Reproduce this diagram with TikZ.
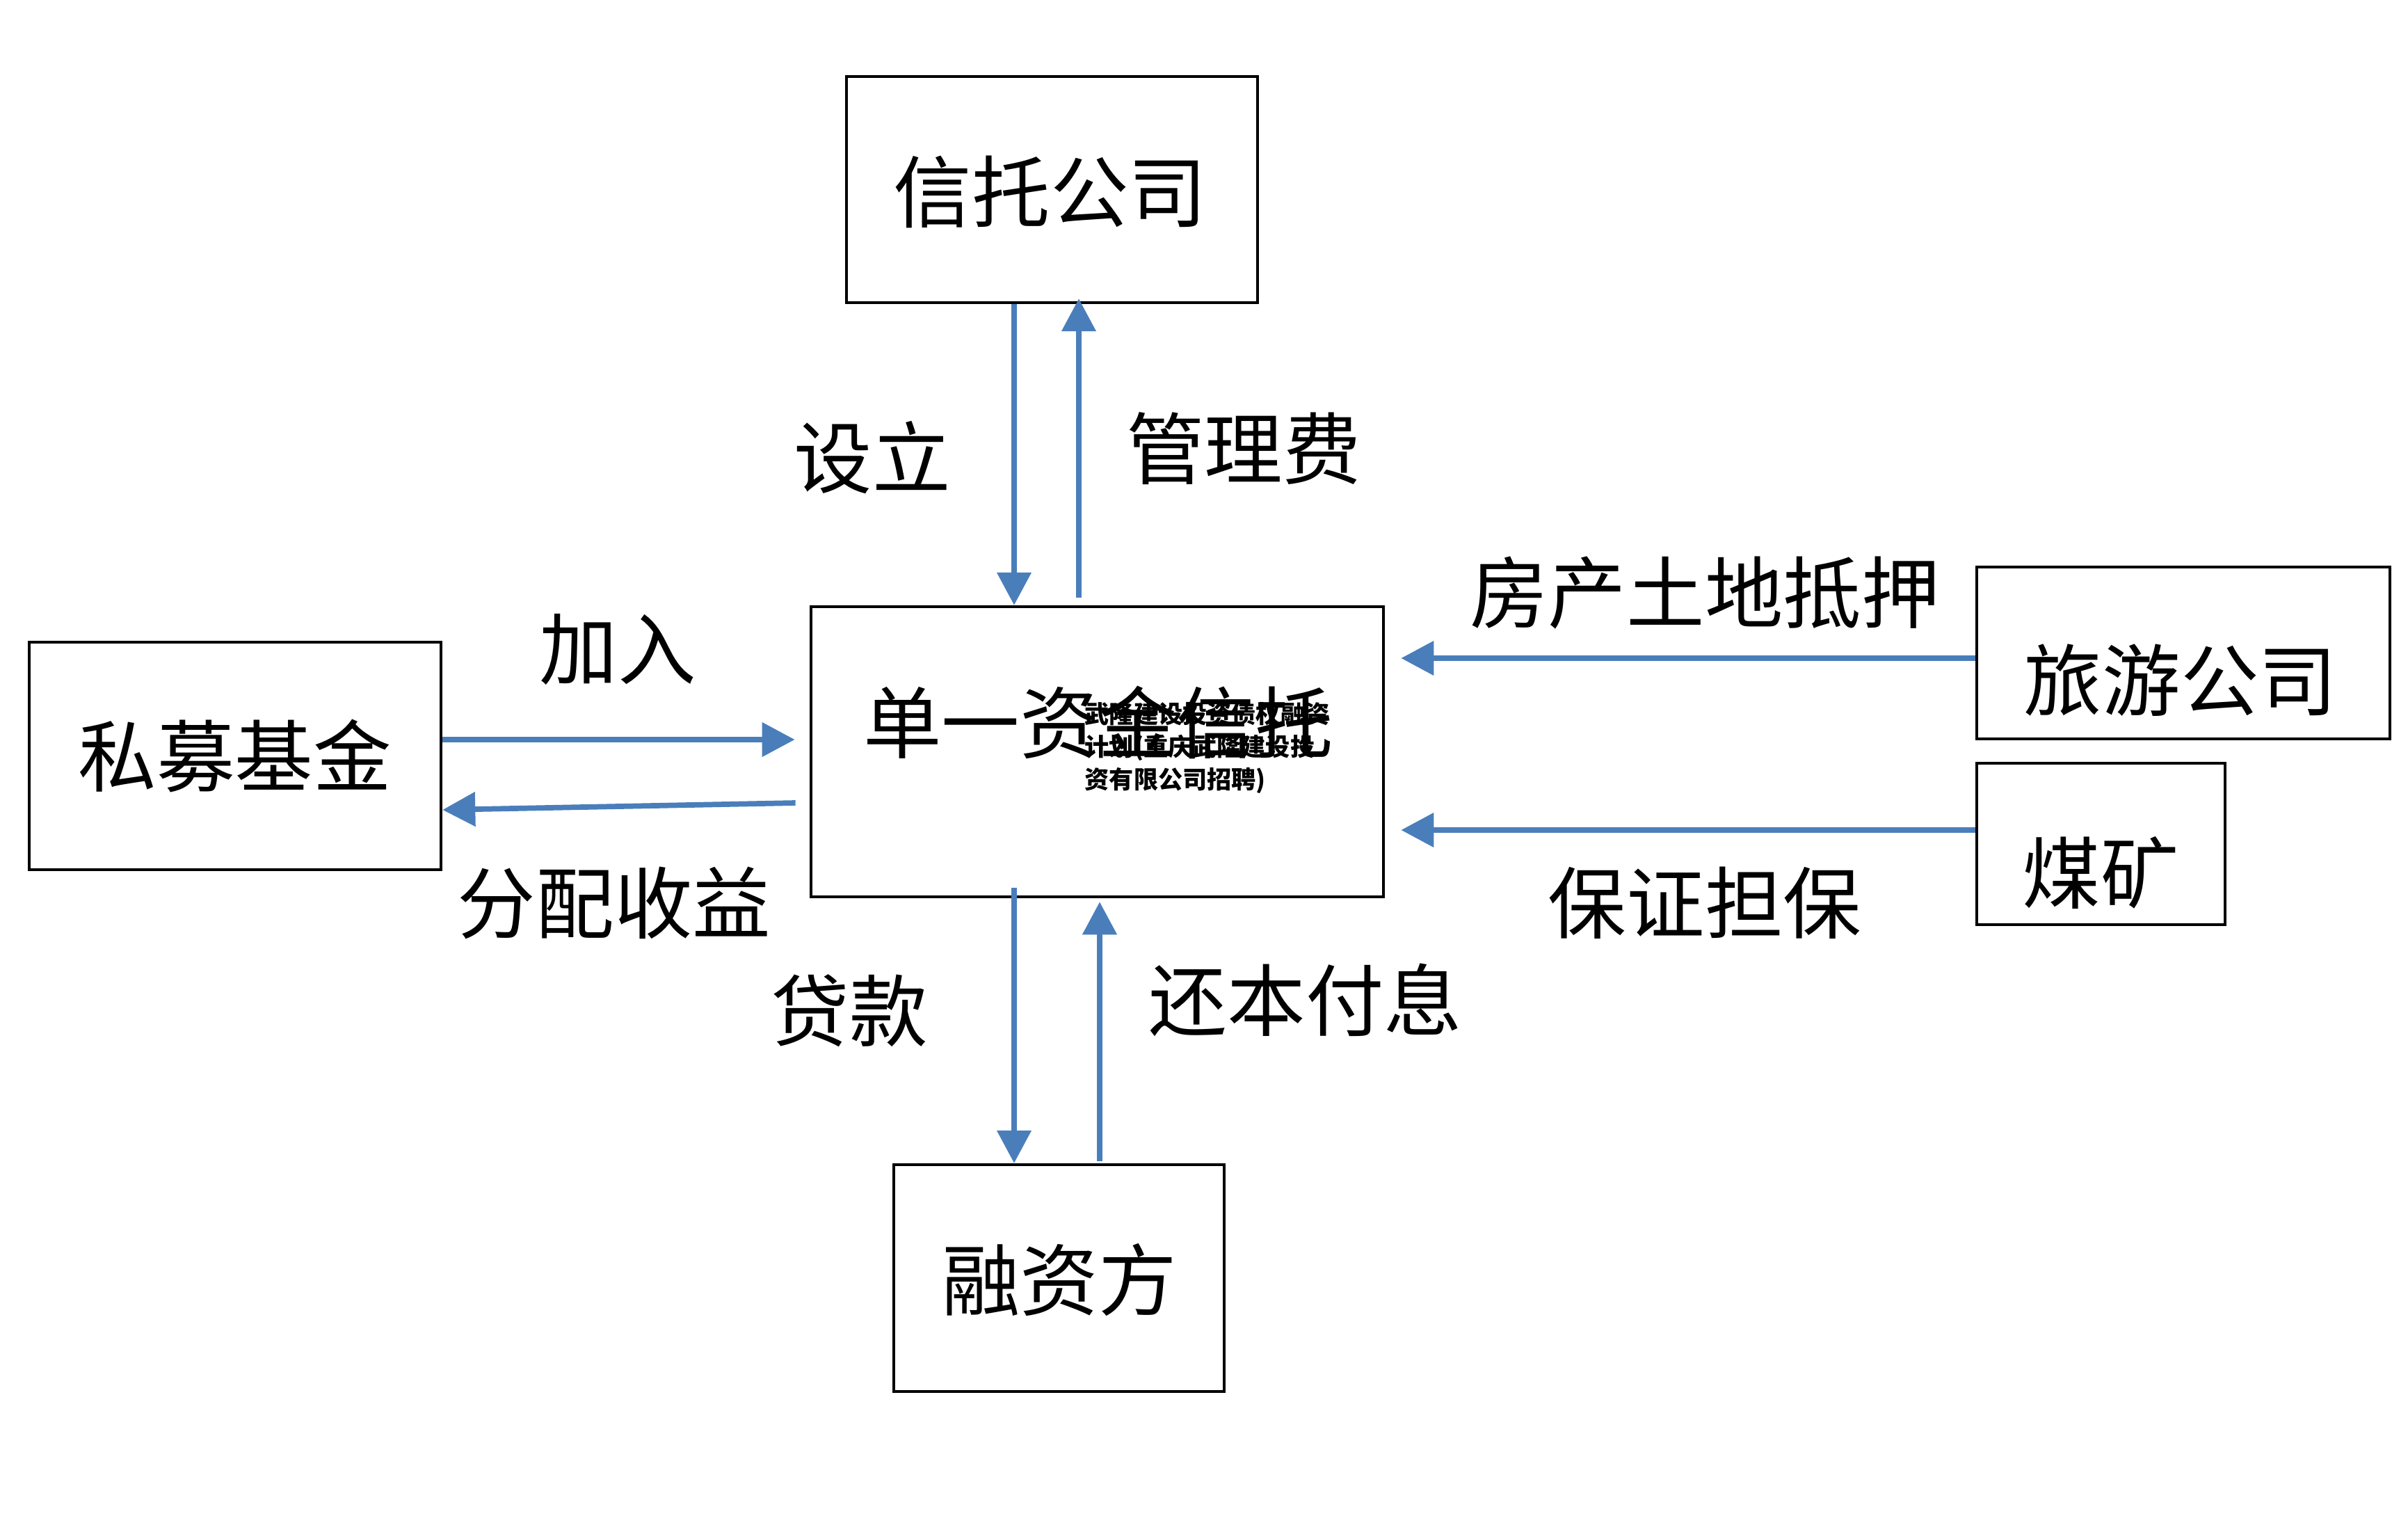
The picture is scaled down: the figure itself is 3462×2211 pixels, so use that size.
\documentclass[tikz,border=0pt]{standalone}
\usepackage{fontspec}
\setmainfont{Noto Sans CJK SC}
\newfontfamily\cjk{Noto Sans CJK SC}
\usetikzlibrary{arrows.meta}
\definecolor{arrblue}{RGB}{74,126,187}
\tikzset{
  box/.style={draw=black, line width=1.2pt, rectangle, inner sep=0pt},
  big/.style={font=\cjk\fontsize{32pt}{38pt}\selectfont, inner sep=0pt},
  arr/.style={draw=arrblue, line width=2.2pt, -{Triangle[width=0.48cm,length=0.47cm]}},
  over/.style={font=\cjk\bfseries\fontsize{10pt}{13.4pt}\selectfont, inner sep=0pt, align=left, anchor=west}
}
\begin{document}
\begin{tikzpicture}[x=0.01cm, y=-0.01cm]
\useasboundingbox (0,0) rectangle (3462,2211);
\fill[white] (0,0) rectangle (3462,2211);
% boxes
\node[box, minimum width=5.91cm, minimum height=3.25cm] (trust) at (1512.5,272.5) {};
\node[box, minimum width=8.23cm, minimum height=4.17cm] (single) at (1577.5,1080.5) {};
\node[box, minimum width=5.92cm, minimum height=3.27cm] (pe) at (338,1086.5) {};
\node[box, minimum width=5.94cm, minimum height=2.47cm] (tour) at (3139,938.5) {};
\node[box, minimum width=3.57cm, minimum height=2.32cm] (coal) at (3020.5,1213) {};
\node[box, minimum width=4.75cm, minimum height=3.26cm] (fin) at (1522.5,1837) {};
% box texts
\node[big] (trusttxt) at (1510,276) {信托公司};
\node[big] (singletxt) at (1579,1038) {单一资金信托};
\node[big] (petxt) at (338,1086) {私募基金};
\node[big] (tourtxt) at (3135,978) {旅游公司};
\node[big] (coaltxt) at (3020,1254) {煤矿};
\node[big] (fintxt) at (1523,1839) {融资方};
% overlay text
\node[over] (overlay) at (1559,1075) {武隆建设投资债权融资\\计划(重庆武隆建设投\\资有限公司招聘)};
% arrow labels
\node[big] (l1) at (1254,658) {设立};
\node[big] (l2) at (1788,645) {管理费};
\node[big] (l3) at (888,934) {加入};
\node[big] (l4) at (883,1298) {分配收益};
\node[big] (l5) at (2451,852) {房产土地抵押};
\node[big] (l6) at (2451,1298) {保证担保};
\node[big] (l7) at (1221,1453) {贷款};
\node[big] (l8) at (1877,1437) {还本付息};
% connector helper coordinates
\coordinate (xa) at (1458,0);
\coordinate (xb) at (1551,0);
\coordinate (xc) at (1581,0);
\coordinate (ya) at (0,1063);
\coordinate (yb1) at (0,1154);
\coordinate (yb2) at (0,1164);
\coordinate (yc) at (0,946);
\coordinate (yd) at (0,1193);
% vertical arrows
\draw[arr] (xa |- trust.south) -- (xa |- single.north);
\draw[arr] ([yshift=0.11cm]xb |- single.north) -- ([yshift=0.08cm]xb |- trust.south);
\draw[arr] ([yshift=0.15cm]xa |- single.south) -- (xa |- fin.north);
\draw[arr] ([yshift=0.03cm]xc |- fin.north) -- ([yshift=-0.05cm]xc |- single.south);
% horizontal arrows
\draw[arr] (pe.east |- ya) -- ([xshift=-0.21cm]single.west |- ya);
\draw[arr] ([xshift=-0.2cm]single.west |- yb1) -- (pe.east |- yb2);
\draw[arr] (tour.west |- yc) -- ([xshift=0.23cm]single.east |- yc);
\draw[arr] (coal.west |- yd) -- ([xshift=0.23cm]single.east |- yd);
\end{tikzpicture}
\end{document}
